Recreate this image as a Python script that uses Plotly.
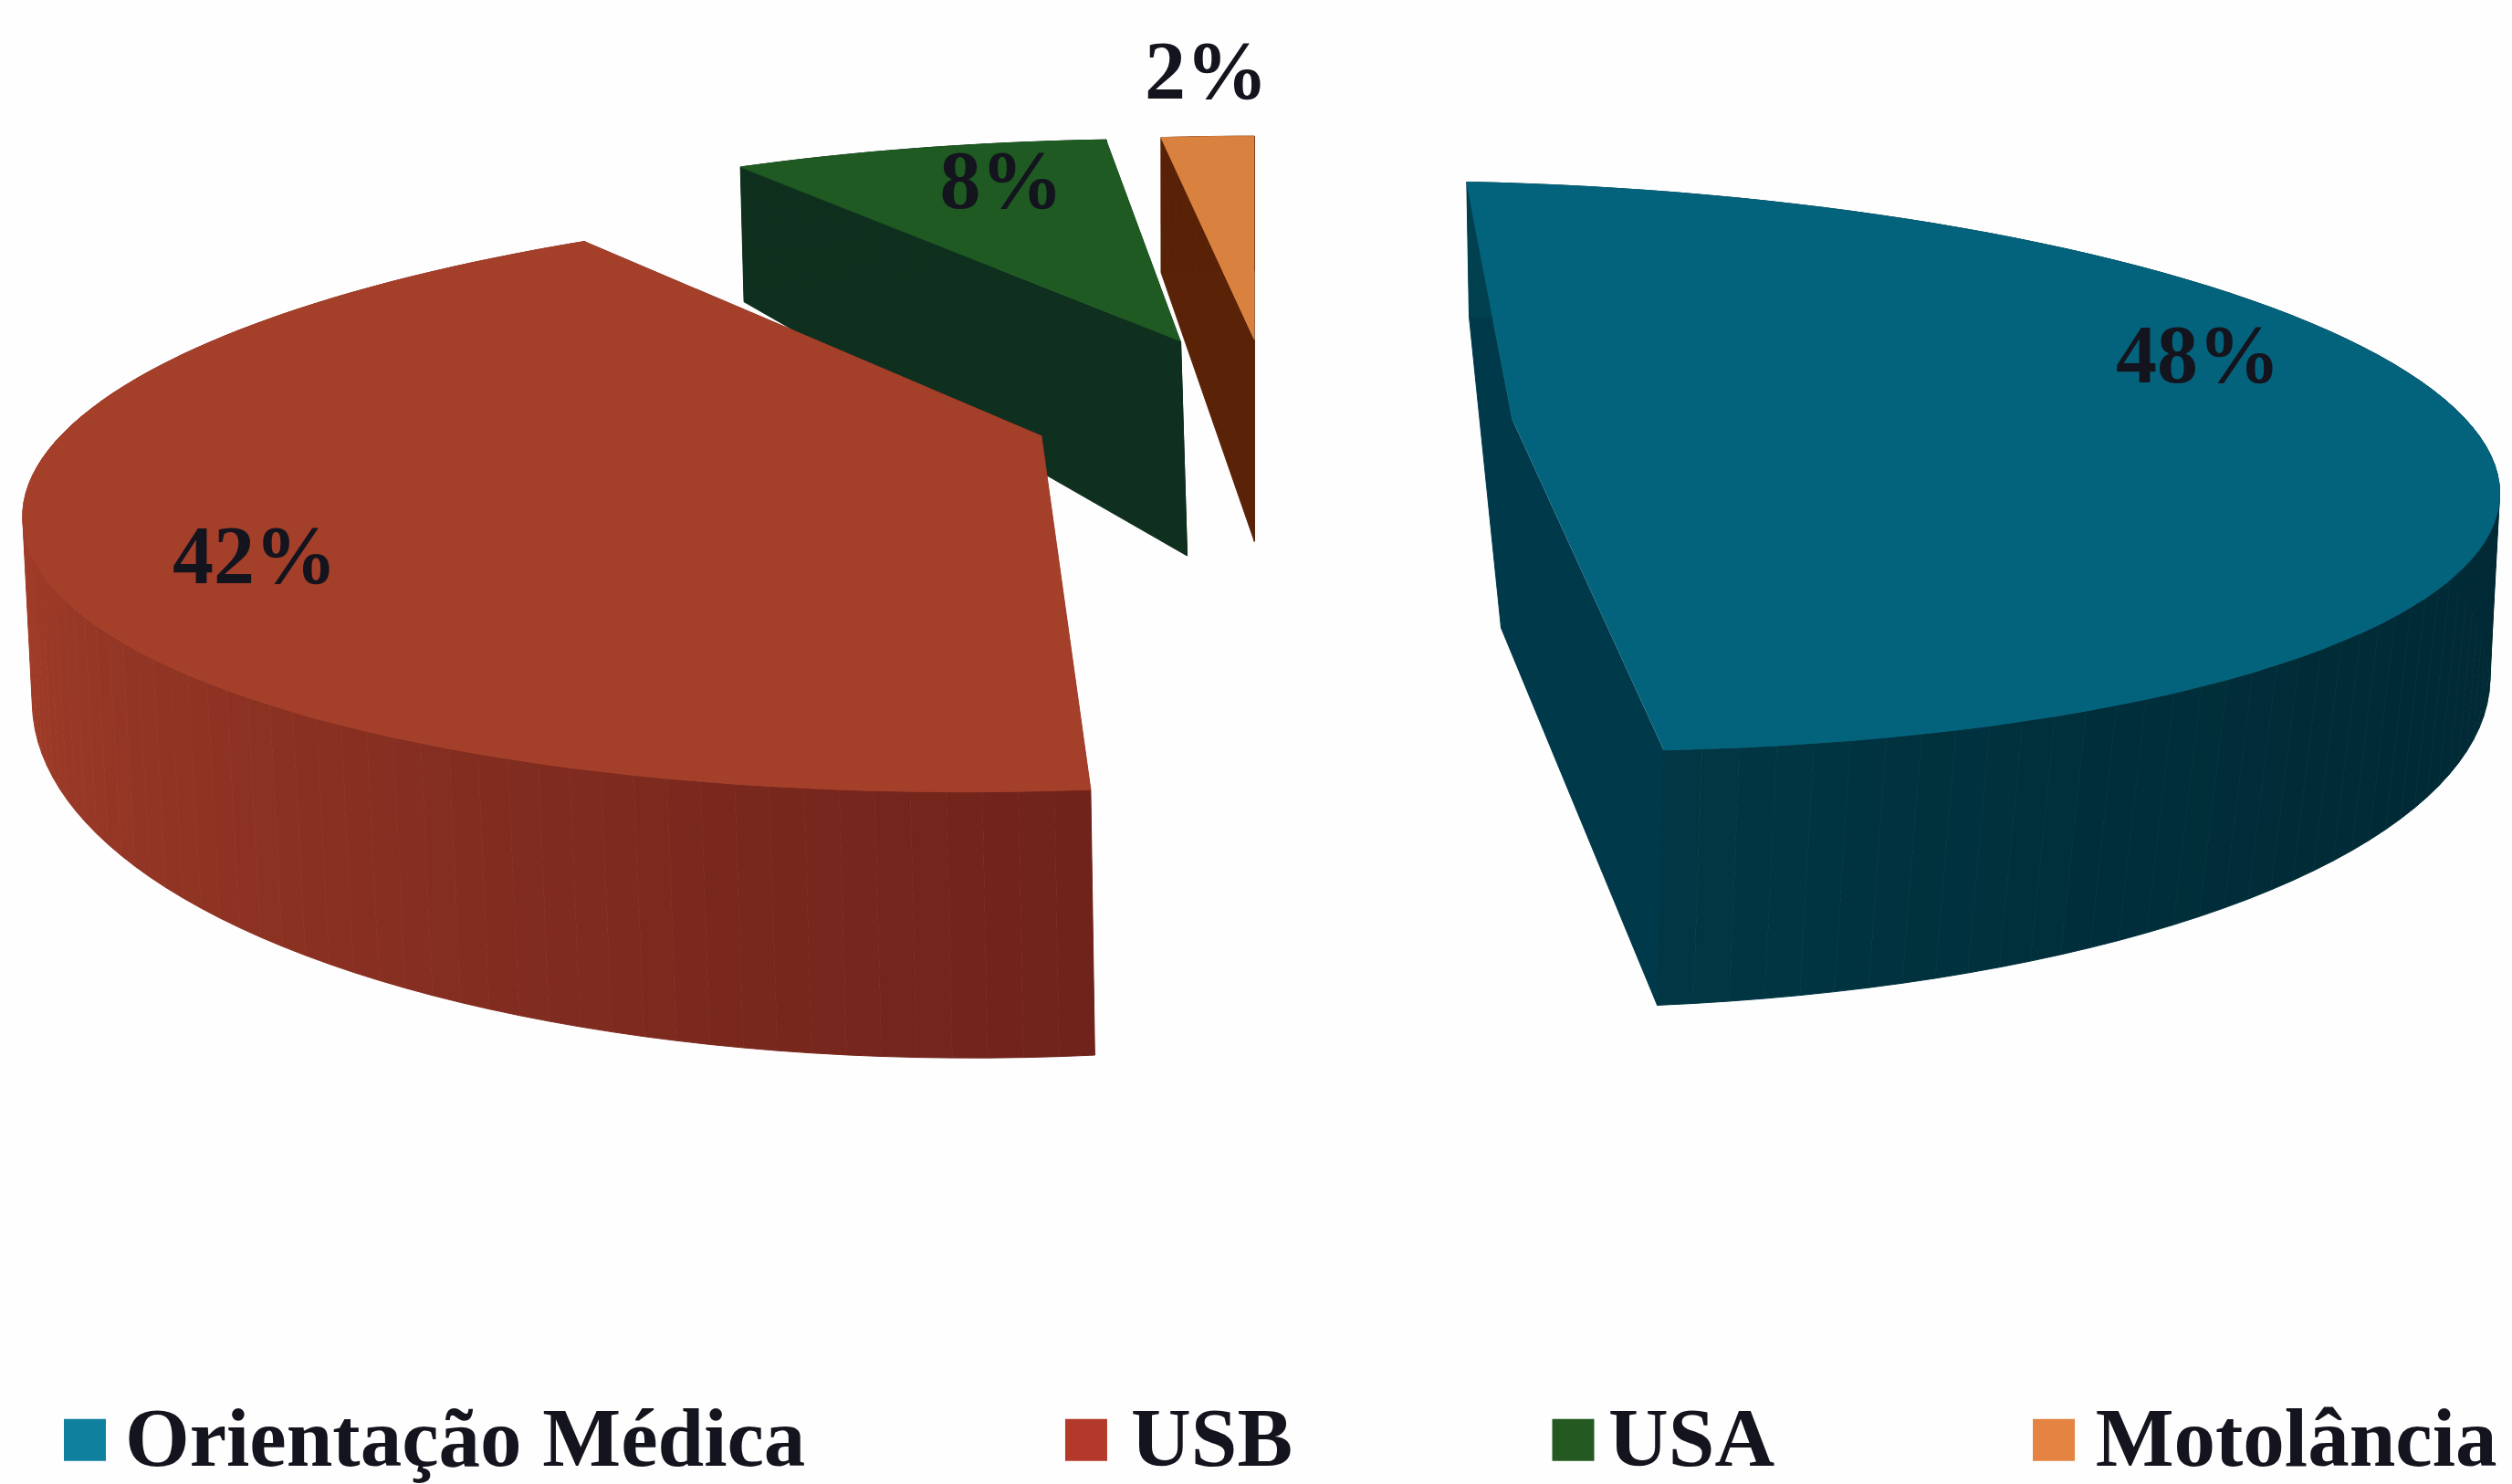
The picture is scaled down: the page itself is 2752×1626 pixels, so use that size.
import numpy as np
import plotly.graph_objects as go

# ---- chart data ----
categories = ["Orientação Médica", "USB", "USA", "Motolância"]
values = [48, 42, 8, 2]
label_texts = ["48%", "42%", "8%", "2%"]

# ---- styling ----
top_colors = ["#04637C", "#A43F2A", "#1E5A22", "#D9813F"]
wall_left = ["#01404F", "#A03C28", "#10301F", "#5A2308"]
wall_right = ["#002A35", "#70231B", "#10301F", "#5A2308"]
radial_colors = ["#00394A", "#72231B", "#10301F", "#5A2308"]
legend_colors = ["#10809F", "#B33A2A", "#245A22", "#E58442"]
text_color = "#14141E"
FONT = "Liberation Serif"

# ---- projection of each exploded slice, reference canvas 1568 x 926 ----
start_angle = [91.5, -87.3, 123.0, 97.2]
# disc = centre x, centre y, half width, back half-height, front half-height, tilt
top_disc = [(930, 268, 625, 154, 200, 0.027), (645, 276, 620, 150, 218, -0.02),
            (725, 212, 563, 125, 187, 0), (783, 212, 557, 127, 190, 0)]
bot_disc = [(932, 395, 620, 197, 234, 0.015), (648, 380, 618, 196, 280, -0.025),
            (727, 347, 563, 184, 276, 0), (783, 337, 557, 168, 252, 0)]
top_apex = [(944, 262), (650, 272), (737, 213), (783, 212)]
bot_apex = [(937, 392), (652, 402), (741, 347), (783, 338)]
label_pos = [(1372, 226), (159, 351), (625, 117), (753, 49)]
legend_marker_x = [53, 678, 982, 1282]
legend_text_x = [78, 706, 1004, 1308]
LEGEND_MARKER_Y = 899
LEGEND_TEXT_Y = 902
draw_order = [2, 3, 1, 0]


def project(disc, ang):
    cx, cy, rx, b, f, tilt = disc
    k = (f - b) / (f + b)
    ry = 2 * f * b / (f + b)
    u, v = np.cos(np.radians(ang)), np.sin(np.radians(ang))
    d = 1 + k * v
    x = cx + rx * u / d
    return x, cy - ry * v / d + tilt * (x - cx)


def blend(c1, c2, t):
    a = [int(c1[i:i + 2], 16) for i in (1, 3, 5)]
    b = [int(c2[i:i + 2], 16) for i in (1, 3, 5)]
    return "#%02x%02x%02x" % tuple(round(p + (q - p) * t) for p, q in zip(a, b))


def poly(xs, ys, color):
    return go.Scatter(x=list(xs), y=list(ys), mode="lines", fill="toself", fillcolor=color,
                      line=dict(color=color, width=1), hoverinfo="skip", showlegend=False)


fig = go.Figure()
total = sum(values)
for i in draw_order:
    sweep = values[i] / total * 360
    angs = start_angle[i] - np.linspace(0, sweep, 90)
    tx, ty = project(top_disc[i], angs)
    bx, by = project(bot_disc[i], angs)
    # radial walls
    fig.add_trace(poly([tx[0], bx[0], bot_apex[i][0], top_apex[i][0]],
                       [ty[0], by[0], bot_apex[i][1], top_apex[i][1]], radial_colors[i]))
    fig.add_trace(poly([top_apex[i][0], bot_apex[i][0], bx[-1], tx[-1]],
                       [top_apex[i][1], bot_apex[i][1], by[-1], ty[-1]], radial_colors[i]))
    # outer wall, shaded from left to right on screen
    span = max(tx.max() - tx.min(), 1)
    for j in range(len(angs) - 1):
        t = ((tx[j] - tx.min()) / span) ** 0.6
        col = blend(wall_left[i], wall_right[i], t)
        fig.add_trace(poly([tx[j], tx[j + 1], bx[j + 1], bx[j]],
                           [ty[j], ty[j + 1], by[j + 1], by[j]], col))
    # top face
    fig.add_trace(poly([top_apex[i][0]] + list(tx), [top_apex[i][1]] + list(ty), top_colors[i]))

fig.add_trace(go.Scatter(x=[p[0] for p in label_pos], y=[p[1] for p in label_pos], mode="text",
                         text=label_texts, textposition="middle center",
                         textfont=dict(family=FONT, size=90, color=text_color, weight="bold"),
                         hoverinfo="skip", showlegend=False))
fig.add_trace(go.Scatter(x=legend_marker_x, y=[LEGEND_MARKER_Y] * 4, mode="markers",
                         marker=dict(symbol="square", size=46, color=legend_colors, line=dict(width=0)),
                         hovertext=categories, hoverinfo="text", showlegend=False))
fig.add_trace(go.Scatter(x=legend_text_x, y=[LEGEND_TEXT_Y] * 4, mode="text", text=categories,
                         textposition="middle right",
                         textfont=dict(family=FONT, size=91, color=text_color, weight="bold"),
                         hoverinfo="skip", showlegend=False))

fig.update_layout(width=2752, height=1626, margin=dict(l=0, r=0, t=0, b=0),
                  paper_bgcolor="#FEFEFE", plot_bgcolor="#FEFEFE",
                  xaxis=dict(range=[0, 1568], visible=False, fixedrange=True),
                  yaxis=dict(range=[926.5, 0], visible=False, fixedrange=True))
fig.write_html("out.html", config={"displayModeBar": False},
               post_script="document.body.style.margin='0';")
